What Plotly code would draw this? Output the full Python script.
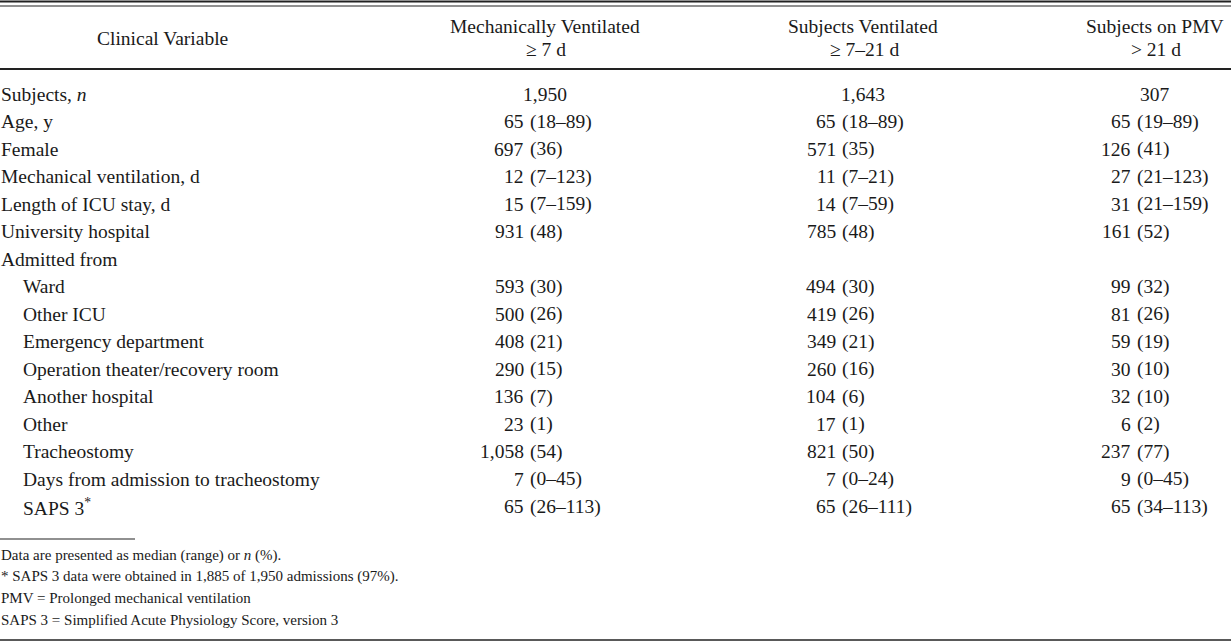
import plotly.graph_objects as go

# ---------------- data ----------------
variables = [
    "Subjects, <i>n</i>", "Age, y", "Female", "Mechanical ventilation, d",
    "Length of ICU stay, d", "University hospital", "Admitted from", "Ward",
    "Other ICU", "Emergency department", "Operation theater/recovery room",
    "Another hospital", "Other", "Tracheostomy",
    "Days from admission to tracheostomy", "SAPS 3<sup>*</sup>",
]
indented = [False] * 7 + [True] * 9

mv_7d = ["1,950", "65 (18–89)", "697 (36)", "12 (7–123)", "15 (7–159)", "931 (48)", "",
         "593 (30)", "500 (26)", "408 (21)", "290 (15)", "136 (7)", "23 (1)",
         "1,058 (54)", "7 (0–45)", "65 (26–113)"]
v_7_21d = ["1,643", "65 (18–89)", "571 (35)", "11 (7–21)", "14 (7–59)", "785 (48)", "",
           "494 (30)", "419 (26)", "349 (21)", "260 (16)", "104 (6)", "17 (1)",
           "821 (50)", "7 (0–24)", "65 (26–111)"]
pmv_21d = ["307", "65 (19–89)", "126 (41)", "27 (21–123)", "31 (21–159)", "161 (52)", "",
           "99 (32)", "81 (26)", "59 (19)", "30 (10)", "32 (10)", "6 (2)",
           "237 (77)", "9 (0–45)", "65 (34–113)"]

row_header = "Clinical Variable"
col_head_top = ["Mechanically Ventilated", "Subjects Ventilated", "Subjects on PMV"]
col_head_bot = ["≥ 7 d", "≥ 7–21 d", "> 21 d"]

footnotes = [
    "Data are presented as median (range) or <i>n</i> (%).",
    "* SAPS 3 data were obtained in 1,885 of 1,950 admissions (97%).",
    "PMV = Prolonged mechanical ventilation",
    "SAPS 3 = Simplified Acute Physiology Score, version 3",
]

# ---------------- layout constants ----------------
W, H = 1231, 644
FONT = "Liberation Serif, Times New Roman, serif"
FS = 19.5
FS_NOTE = 15
TXT = "#1a1a1a"
col_center = [545, 863, 1155]
col_paren = [529, 841, 1136]
row_y0, row_dy = 94, 27.5
label_x, indent_x = 0, 22

ann = []


def add(x, y, text, xa="left", size=FS):
    ann.append(dict(x=x, y=y, xref="x", yref="y", text=text, showarrow=False,
                    xanchor=xa, yanchor="middle", borderpad=0,
                    font=dict(family=FONT, size=size, color=TXT)))


# header
add(162, 38, row_header, "center")
for c in range(3):
    add(col_center[c], 26, col_head_top[c], "center")
    add(col_center[c] + 1, 49, col_head_bot[c], "center")

# body
columns = [mv_7d, v_7_21d, pmv_21d]
for i, lab in enumerate(variables):
    y = row_y0 + i * row_dy
    add(indent_x if indented[i] else label_x, y, lab, "left")
    for c, col in enumerate(columns):
        val = col[i]
        if not val:
            continue
        if " (" in val:
            pre, post = val.split(" (", 1)
            add(col_paren[c] - 4.5, y, pre, "right")
            add(col_paren[c], y, "(" + post, "left")
        else:
            add(col_center[c], y, val, "center")

# footnotes
for k, note in enumerate(footnotes):
    add(0, 555 + k * 21.7, note, "left", FS_NOTE)

shapes = [
    dict(type="line", x0=0, x1=W, y0=1.5, y1=1.5, line=dict(color="#222", width=2.2)),
    dict(type="line", x0=0, x1=W, y0=6, y1=6, line=dict(color="#222", width=1)),
    dict(type="line", x0=0, x1=W, y0=69, y1=69, line=dict(color="#222", width=2)),
    dict(type="line", x0=0, x1=135, y0=539, y1=539, line=dict(color="#222", width=1.2)),
    dict(type="line", x0=0, x1=W, y0=640, y1=640, line=dict(color="#222", width=1.5)),
]
for s in shapes:
    s.update(xref="x", yref="y")

fig = go.Figure()
fig.add_trace(go.Scatter(x=[0, W], y=[0, H], mode="markers",
                         marker=dict(opacity=0), hoverinfo="skip", showlegend=False))
fig.update_layout(
    width=W, height=H, margin=dict(l=0, r=0, t=0, b=0),
    paper_bgcolor="white", plot_bgcolor="white",
    xaxis=dict(range=[0, W], visible=False, fixedrange=True),
    yaxis=dict(range=[H, 0], visible=False, fixedrange=True),
    annotations=ann, shapes=shapes, showlegend=False,
)
fig.write_html("out.html", config={"displayModeBar": False},
               post_script="document.body.style.margin='0px';document.body.style.overflow='hidden';")
